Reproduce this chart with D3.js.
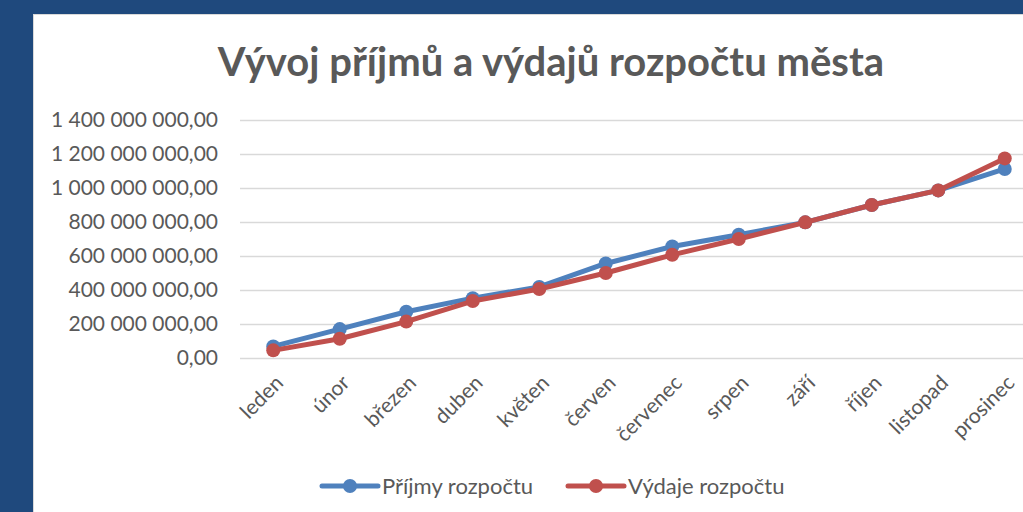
<!DOCTYPE html>
<html>
<head>
<meta charset="utf-8">
<script src="https://cdn.jsdelivr.net/npm/d3@7"></script>
<style>
  html, body { margin: 0; padding: 0; background: #1f497d; overflow: hidden; }
  svg { display: block; }
  text { font-family: Lato, "Open Sans", sans-serif; fill: #595959; }
</style>
</head>
<body>
<svg width="1023" height="512"></svg>
<script>
// chart data
var months = ["leden", "únor", "březen", "duben", "květen", "červen",
  "červenec", "srpen", "září", "říjen", "listopad", "prosinec"];
var prijmy = [68e6, 170e6, 272e6, 352e6, 418e6, 556e6, 656e6, 725e6, 798e6, 900e6, 986e6, 1112e6];
var vydaje = [45e6, 113e6, 214e6, 335e6, 406e6, 500e6, 607e6, 700e6, 798e6, 900e6, 986e6, 1174e6];
var yTicks = [0, 200e6, 400e6, 600e6, 800e6, 1000e6, 1200e6, 1400e6];
var seriesNames = ["Příjmy rozpočtu", "Výdaje rozpočtu"];
var seriesColors = ["#4f81bd", "#c0504d"];

var svg = d3.select("svg");

// white chart area on the dark blue frame
svg.append("rect")
  .attr("x", 33.5).attr("y", 14.5)
  .attr("width", 1100).attr("height", 600)
  .attr("fill", "#fff")
  .attr("stroke", "#d9d9d9");

// title
svg.append("text")
  .attr("x", 551).attr("y", 76)
  .attr("text-anchor", "middle")
  .style("font-size", "40px")
  .style("font-weight", "bold")
  .text("Vývoj příjmů a výdajů rozpočtu města");

var x = d3.scaleBand().domain(months).range([240, 1038]);
var y = d3.scaleLinear().domain([0, 1400e6]).range([358, 120]);
var cx = function (m) { return x(m) + x.bandwidth() / 2; };

var cz = d3.formatLocale({ decimal: ",", thousands: "\u00a0", grouping: [3] }).format(",.2f");

// gridlines + y labels
var yAxis = svg.append("g")
  .call(d3.axisLeft(y).tickValues(yTicks).tickFormat(cz).tickSize(0).tickPadding(0))
  .attr("transform", "translate(218,0)");
yAxis.select(".domain").remove();
yAxis.selectAll("text")
  .style("font-size", "21px")
  .style("fill", "#595959")
  .attr("font-family", null);

svg.append("g").selectAll("line")
  .data(yTicks)
  .enter().append("line")
  .attr("x1", 240).attr("x2", 1038)
  .attr("y1", function (d) { return y(d) + 0.5; })
  .attr("y2", function (d) { return y(d) + 0.5; })
  .attr("stroke", "#d9d9d9")
  .attr("stroke-width", 1.5);

// x labels rotated
svg.append("g").selectAll("text")
  .data(months)
  .enter().append("text")
  .attr("transform", function (d) { return "translate(" + (cx(d) + 6) + ",379) rotate(-45)"; })
  .attr("text-anchor", "end")
  .attr("dy", "0.35em")
  .style("font-size", "21px")
  .text(function (d) { return d; });

// series lines and markers
var series = [prijmy, vydaje];
var line = d3.line()
  .x(function (d, i) { return cx(months[i]); })
  .y(function (d) { return y(d); });

series.forEach(function (vals, s) {
  var g = svg.append("g");
  g.append("path")
    .datum(vals)
    .attr("d", line)
    .attr("fill", "none")
    .attr("stroke", seriesColors[s])
    .attr("stroke-width", 5)
    .attr("stroke-linejoin", "round")
    .attr("stroke-linecap", "round");
  g.selectAll("circle")
    .data(vals)
    .enter().append("circle")
    .attr("cx", function (d, i) { return cx(months[i]); })
    .attr("cy", function (d) { return y(d); })
    .attr("r", 7)
    .attr("fill", seriesColors[s]);
});

// legend
var legendX = [322, 568];
var legend = svg.append("g").selectAll("g")
  .data(seriesNames)
  .enter().append("g")
  .attr("transform", function (d, i) { return "translate(" + legendX[i] + ",486)"; });
legend.append("line")
  .attr("x1", 0).attr("x2", 56)
  .attr("stroke", function (d, i) { return seriesColors[i]; })
  .attr("stroke-width", 5)
  .attr("stroke-linecap", "round");
legend.append("circle")
  .attr("cx", 28).attr("r", 7)
  .attr("fill", function (d, i) { return seriesColors[i]; });
legend.append("text")
  .attr("x", 60).attr("dy", "0.35em")
  .style("font-size", "22px")
  .text(function (d) { return d; });
</script>
</body>
</html>
